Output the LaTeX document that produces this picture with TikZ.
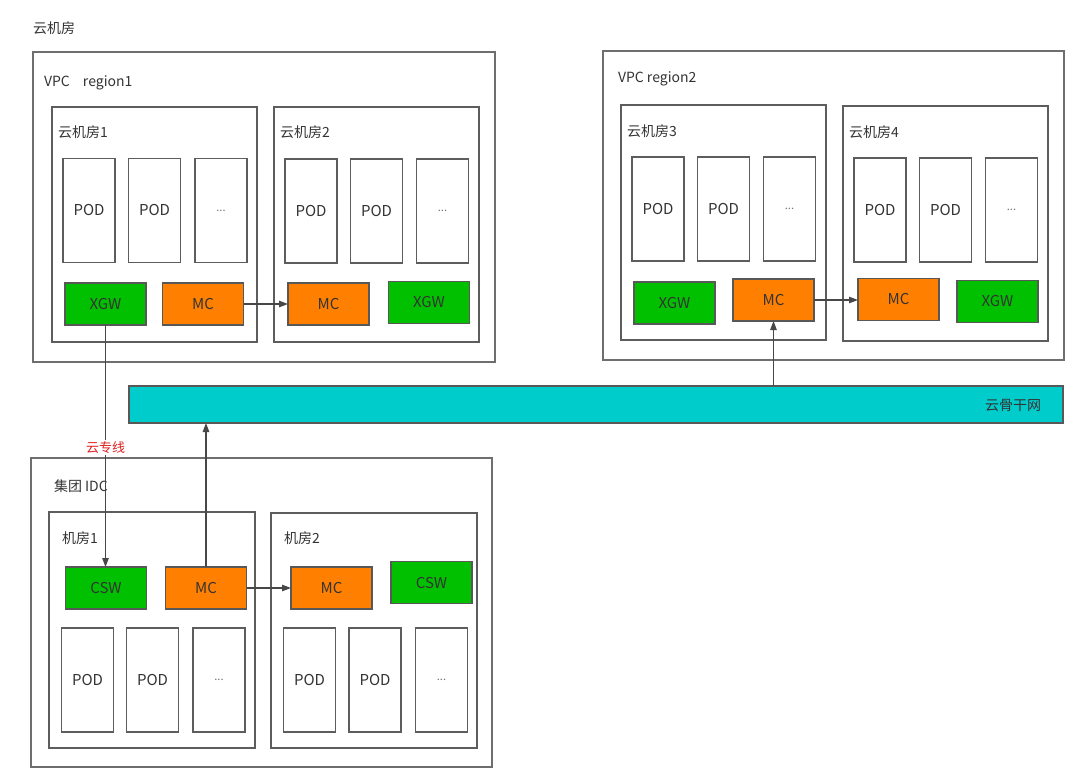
\documentclass[tikz,border=0pt]{standalone}
\usepackage{fontspec}
\setmainfont{Noto Sans CJK SC}
\usetikzlibrary{arrows.meta}
\definecolor{gbox}{RGB}{0,192,0}
\definecolor{obox}{RGB}{255,128,0}
\definecolor{cbox}{RGB}{0,204,204}
\definecolor{txt}{RGB}{51,51,51}
\definecolor{frame}{RGB}{110,110,110}
\definecolor{redlbl}{RGB}{224,32,32}
\begin{document}
\begin{tikzpicture}[x=1pt,y=-1pt,
  every node/.style={inner sep=0pt, outer sep=0pt, text=txt, font=\fontsize{14}{16}\selectfont},
  outerbox/.style={draw=frame, line width=1.3pt, rectangle},
  roombox/.style={draw=frame!85!black, line width=1.3pt, rectangle, minimum width=205pt, minimum height=235pt},
  podbox/.style={draw=frame!85!black, line width=1.2pt, fill=white, minimum width=52pt, minimum height=104pt, font=\fontsize{15}{17}\selectfont},
  dots/.style={podbox, font=\fontsize{11}{12}\selectfont, text=txt!70},
  gw/.style={draw=frame!80!black, line width=1.2pt, fill=gbox, minimum width=81pt, minimum height=42pt, font=\fontsize{15}{17}\selectfont},
  mcbox/.style={draw=frame!80!black, line width=1.2pt, fill=obox, minimum width=81pt, minimum height=42pt, font=\fontsize{15}{17}\selectfont},
  lbl/.style={anchor=west},
  conn/.style={draw=txt!90, line width=1.1pt},
  arr/.style={conn, -{Triangle[length=9pt,width=6.5pt]}}
]
\useasboundingbox (0,0) rectangle (1080,784);

% title
\node[lbl] (title) at (33,28) {云机房};

% ---------------- VPC region1 ----------------
\node[outerbox, minimum width=462pt, minimum height=310pt] (vpc1) at (264,207) {};
\node[lbl] (vpc1l) at (44,83) {VPC\hspace{10pt} region1};

\node[roombox] (r1) at (154.5,224.5) {};
\node[lbl] (r1l) at (58,132) {云机房1};
\node[podbox] (p11) at (89,210.5) {POD};
\node[podbox] (p12) at (154.5,210.5) {POD};
\node[dots] (p13) at (221,210.5) {...};
\node[gw] (xgw1) at (105.5,304) {XGW};
\node[mcbox] (mc1) at (203,304) {MC};

\node[roombox] (r2) at (376.5,224.5) {};
\node[lbl] (r2l) at (280,132) {云机房2};
\node[podbox] (p21) at (311,211) {POD};
\node[podbox] (p22) at (376.5,211) {POD};
\node[dots] (p23) at (442.5,211) {...};
\node[mcbox] (mc2) at (328.5,304) {MC};
\node[gw] (xgw2) at (429,302.5) {XGW};

% ---------------- VPC region2 ----------------
\node[outerbox, minimum width=461pt, minimum height=309pt] (vpc2) at (833.5,205.5) {};
\node[lbl] (vpc2l) at (618,79) {VPC region2};

\node[roombox] (r3) at (723.5,222.5) {};
\node[lbl] (r3l) at (627,131) {云机房3};
\node[podbox] (p31) at (658,209) {POD};
\node[podbox] (p32) at (723.5,209) {POD};
\node[dots] (p33) at (789.5,209) {...};
\node[gw] (xgw3) at (674.5,303) {XGW};
\node[mcbox] (mc3) at (773.5,300) {MC};

\node[roombox] (r4) at (945.5,223.5) {};
\node[lbl] (r4l) at (849,132) {云机房4};
\node[podbox] (p41) at (880,210) {POD};
\node[podbox] (p42) at (945.5,210) {POD};
\node[dots] (p43) at (1011.5,210) {...};
\node[mcbox] (mc4) at (898.5,299.5) {MC};
\node[gw] (xgw4) at (997.5,301.5) {XGW};

% ---------------- backbone ----------------
\node[draw=frame!80!black, line width=1.2pt, fill=cbox, minimum width=934pt, minimum height=37pt] (bb) at (596,404.5) {};
\node[anchor=east] (bbl) at (1041,405) {云骨干网};

% ---------------- IDC ----------------
\node[outerbox, minimum width=461pt, minimum height=309pt] (idc) at (261.5,612.5) {};
\node[lbl] (idcl) at (54,486) {集团 IDC};

\node[roombox, minimum width=206pt, minimum height=236pt] (k1) at (152,630) {};
\node[lbl] (k1l) at (62,538) {机房1};
\node[gw] (csw1) at (106,588) {CSW};
\node[mcbox] (mcA) at (206,588) {MC};
\node[podbox] (q11) at (87.5,680) {POD};
\node[podbox] (q12) at (152.5,680) {POD};
\node[dots] (q13) at (219,680) {...};

\node[roombox, minimum width=206pt, minimum height=235pt] (k2) at (374,630.5) {};
\node[lbl] (k2l) at (284,538) {机房2};
\node[mcbox] (mcB) at (331.5,588) {MC};
\node[gw] (csw2) at (431.5,582.5) {CSW};
\node[podbox] (q21) at (309.5,680) {POD};
\node[podbox] (q22) at (375,680) {POD};
\node[dots] (q23) at (441.5,680) {...};

% ---------------- connectors ----------------
\draw[arr] (mc1.east) -- (mc2.west);
\draw[arr] (mc3.east) -- (mc4.west |- mc3.east);
\draw[arr] (mcA.east) -- (mcB.west);
\draw[arr] (xgw1.south) -- (xgw1.south |- csw1.north)
  node[pos=0.505, fill=white, inner sep=1.5pt, text=redlbl, font=\fontsize{13}{15}\selectfont] (zx) {云专线};
\draw[arr] (mcA.north) -- (mcA.north |- bb.south);
\draw[arr] (mc3.south |- bb.north) -- (mc3.south);
\end{tikzpicture}
\end{document}
